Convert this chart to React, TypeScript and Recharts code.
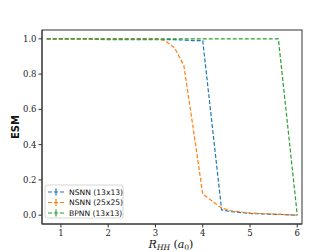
import React from "react";
import { LineChart, Line, XAxis, YAxis } from "recharts";

// bond length R_HH (a0) and ESM per model
const rValues = [0.7, 1.0, 1.5, 2.0, 2.5, 3.0, 3.2, 3.4, 3.6, 3.8, 4.0, 4.4, 4.6, 5.0, 5.5, 5.6, 6.0];
const nsnn13 = [1.0, 1.0, 1.0, 0.995, 0.995, 0.995, 0.995, 0.995, 0.993, 0.99, 0.99, 0.03, 0.02, 0.01, 0.005, 0.005, 0.0];
const nsnn25 = [1.0, 1.0, 1.0, 1.0, 1.0, 1.0, 0.99, 0.95, 0.85, 0.49, 0.12, 0.04, 0.025, 0.012, 0.006, 0.005, 0.0];
const bpnn = [1.0, 1.0, 1.0, 1.0, 1.0, 1.0, 1.0, 1.0, 1.0, 1.0, 1.0, 1.0, 1.0, 1.0, 1.0, 1.0, 0.0];
const xTicks = [1, 2, 3, 4, 5, 6];
const yTicks = [0, 0.2, 0.4, 0.6, 0.8, 1.0];

const series = [
  { name: "NSNN (13x13)", values: nsnn13, color: "#1f77b4" },
  { name: "NSNN (25x25)", values: nsnn25, color: "#ff7f0e" },
  { name: "BPNN (13x13)", values: bpnn, color: "#2ca02c" },
];

const toPoints = (values: number[]) => rValues.map((r, i) => ({ r, v: values[i] }));

const tickStyle = { fontFamily: "DejaVu Serif", fontSize: 8.5, fill: "#222" };

if (typeof document !== "undefined") {
  document.body.style.margin = "0";
  document.body.style.overflow = "hidden";
}

export default function App() {
  return (
    <div style={{ position: "relative", width: 336, height: 252, background: "#fff" }}>
      <LineChart width={336} height={252} margin={{ top: 30, right: 34, left: 0, bottom: 0 }}>
        <XAxis
          dataKey="r"
          type="number"
          domain={[0.6, 6.1]}
          ticks={xTicks}
          tick={tickStyle}
          tickLine={{ stroke: "#333" }}
          tickSize={3.5}
          axisLine={{ stroke: "#333" }}
          height={28}
          allowDuplicatedCategory={false}
        />
        <YAxis
          type="number"
          domain={[-0.05, 1.05]}
          ticks={yTicks}
          tick={tickStyle}
          tickFormatter={(v: number) => v.toFixed(1)}
          tickLine={{ stroke: "#333" }}
          tickSize={3.5}
          axisLine={{ stroke: "#333" }}
          width={42}
        />
        {series.map((s) => (
          <Line
            key={s.name}
            data={toPoints(s.values)}
            dataKey="v"
            stroke={s.color}
            strokeWidth={1.2}
            strokeDasharray="4 2"
            dot={false}
            isAnimationActive={false}
          />
        ))}
      </LineChart>
      <svg width={336} height={252} style={{ position: "absolute", left: 0, top: 0, pointerEvents: "none" }}>
        {/* frame around the plot area */}
        <rect x={42} y={30} width={260} height={194} fill="none" stroke="#333" strokeWidth={1} />
        <text
          x={19}
          y={127}
          transform="rotate(-90 19 127)"
          textAnchor="middle"
          style={{ fontFamily: "DejaVu Sans", fontSize: 10, fontWeight: "bold", fill: "#111" }}
        >
          ESM
        </text>
        <text x={171} y={247.5} textAnchor="middle" style={{ fontFamily: "DejaVu Serif", fontSize: 11, fill: "#111" }}>
          <tspan fontStyle="italic">R</tspan>
          <tspan fontStyle="italic" fontSize={7.5} dy={2}>HH</tspan>
          <tspan dy={-2}> (</tspan>
          <tspan fontStyle="italic">a</tspan>
          <tspan fontSize={7.5} dy={2}>0</tspan>
          <tspan dy={-2}>)</tspan>
        </text>
        <rect x={45} y={185} width={78} height={33} rx={2} fill="#fff" fillOpacity={0.85} stroke="#ccc" strokeWidth={0.8} />
        {series.map((s, i) => {
          const y = 192 + i * 10.5;
          return (
            <g key={s.name}>
              <line x1={48} x2={64} y1={y} y2={y} stroke={s.color} strokeWidth={1.2} strokeDasharray="4 2" />
              <line x1={56} x2={56} y1={y - 3.5} y2={y + 3.5} stroke={s.color} strokeWidth={1.2} />
              <text x={69} y={y + 2.8} style={{ fontFamily: "DejaVu Sans", fontSize: 7.6, fill: "#111" }}>
                {s.name}
              </text>
            </g>
          );
        })}
      </svg>
    </div>
  );
}
